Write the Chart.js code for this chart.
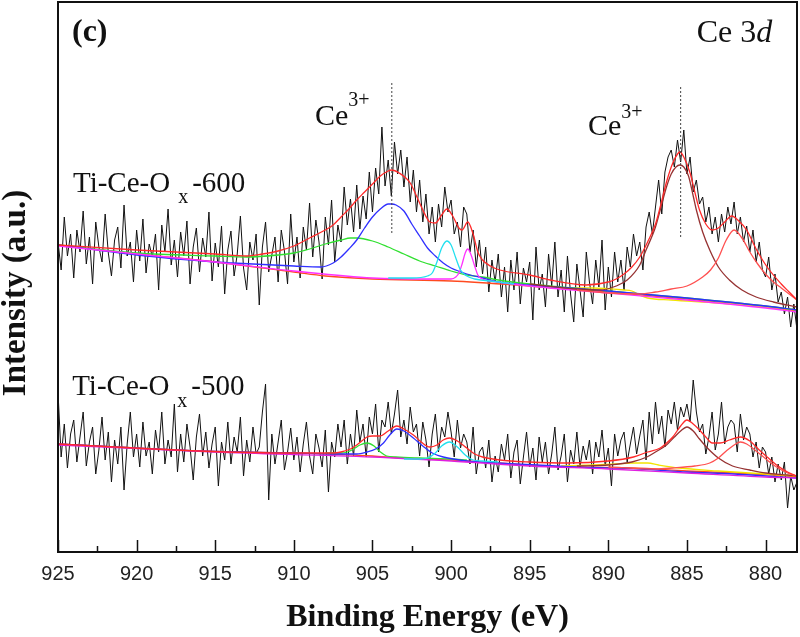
<!DOCTYPE html>
<html>
<head>
<meta charset="utf-8">
<script src="https://cdn.jsdelivr.net/npm/chart.js@4.4.1/dist/chart.umd.min.js"></script>
<style>
  html, body { margin: 0; background: #fff; }
  #wrap { width: 800px; height: 637px; }
</style>
</head>
<body>
<div id="wrap"><canvas id="c"></canvas></div>
<script>
// Ce 3d XPS spectra, binding energy axis reversed
const energyStart = 925;
const energyStep = 0.2;
const xTicks = [880, 885, 890, 895, 900, 905, 910, 915, 920, 925];
const xMinor = [877.5, 882.5, 887.5, 892.5, 897.5, 902.5, 907.5, 912.5, 917.5, 922.5];

// raw counts, Ti-Ce-Ox-600 (925 -> 878 eV, 0.2 eV step)
const raw600 = [
  310, 282, 335, 296, 318,  274, 322, 300, 341, 288,  315, 268, 330, 305, 290,
  338, 299, 276, 312, 325,  284, 347, 296, 310, 270,  322, 291, 333, 279, 308,
  295, 318, 262, 327, 300,  343, 287, 312, 275, 320,  296, 331, 268, 305, 324,
  280, 314, 295, 340, 271,  309, 285, 326, 258, 302,  321, 276, 298, 336, 284,
  262, 310, 292, 318, 247,  305, 330, 280, 297, 315,  270, 322, 301, 268, 338,
  290, 315, 274, 325, 302,  349, 295, 332, 310, 273,  335, 307, 352, 290, 327,
  310, 365, 327, 353, 320,  367, 323, 356, 333, 380,  340, 384, 358, 425, 366,
  392, 356, 410, 378, 402,  365, 395, 350, 382, 340,  372, 330, 358, 318, 345,
  310, 348, 325, 365, 340,  352, 318, 330, 305, 345,  338, 300, 322, 285, 312,
  278, 305, 260, 292, 270,  298, 255, 285, 240, 292,  262, 300, 248, 284, 270,
  290, 232, 305, 262, 278,  245, 298, 266, 310, 255,  282, 240, 296, 258, 230,
  288, 262, 235, 300, 270,  248, 292, 265, 312, 242,  285, 255, 300, 270, 292,
  262, 305, 285, 318, 296,  310, 282, 325, 340, 318,  345, 372, 338, 380, 395,
  402, 385, 412, 390, 422,  378, 395, 360, 372, 348,  355, 330, 345, 318, 335,
  310, 338, 320, 345, 328,  350, 318, 335, 310, 326,  300, 322, 290, 310, 282,
  275, 295, 262, 278, 250,  260, 238, 255, 225, 248,  222
];

// raw counts, Ti-Ce-Ox-500
const raw500 = [
  160, 95, 128, 84, 118,  132, 90, 115, 140, 86,  110, 125, 78, 102, 135,
  92, 120, 70, 112, 88,  125, 62, 108, 140, 95,  118, 85, 130, 96, 110,
  78, 122, 100, 140, 88,  112, 95, 148, 80, 118,  90, 128, 105, 72, 115,
  138, 96, 120, 84, 108,  125, 66, 110, 92, 130,  88, 115, 100, 135, 76,
  112, 90, 125, 98, 105,  140, 168, 52, 118, 88,  110, 132, 82, 100, 124,
  92, 115, 80, 108, 130,  96, 78, 118, 104, 85,  122, 60, 110, 95, 128,
  105, 132, 88, 118, 96,  142, 110, 128, 95, 135,  118, 148, 100, 132, 125,
  150, 118, 138, 162, 115,  132, 108, 145, 120, 128,  96, 130, 112, 85, 118,
  138, 100, 125, 115, 140,  120, 95, 132, 104, 118,  110, 88, 125, 78, 100,
  105, 84, 112, 70, 96,  80, 108, 92, 118, 74,  100, 112, 68, 95, 120,
  85, 104, 72, 115, 90,  110, 78, 98, 125, 82,  96, 118, 70, 102, 88,
  120, 85, 106, 92, 112,  78, 110, 95, 122, 86,  104, 66, 118, 96, 112,
  120, 90, 108, 125, 98,  116, 132, 92, 140, 108,  150, 118, 136, 105, 142,
  128, 150, 122, 145, 135,  148, 130, 172, 140, 120,  128, 98, 115, 140, 102,
  118, 150, 108, 125, 132,  128, 100, 138, 112, 125,  118, 95, 110, 84, 105,
  100, 78, 95, 70, 88,  72, 90, 44, 76, 62,  70
];

// fitted curves [eV, intensity]
const env600 = [[925,307],[920,302],[915,298],[913,296],[912,298],[911,301],[910,306],[909,314],[908,322],[907.5,327],[907,335],[906.5,343],[906,352],[905.5,360],[905,368],[904.5,376],[904,381],[903.8,382],[903.3,379],[902.6,369],[902.2,356],[901.8,342],[901.35,330],[901,329],[900.6,337],[900.27,343],[899.9,336],[899.5,324],[899.3,322],[898.94,330],[898.6,318],[898.3,300],[898,292],[897.5,286],[896.9,282],[895,277],[893.7,272],[891.4,267],[890,270],[889.5,273],[889,278],[888.5,285],[888,295],[887.5,310],[887,328],[886.7,345],[886.3,370],[885.9,389],[885.6,398],[885.45,400],[885.2,395],[884.8,379],[884.5,360],[884.2,342],[883.8,328],[883.4,322],[883,324],[882.6,330],[882.15,336],[881.7,331],[881.2,322],[880.6,303],[879.9,285],[879,268],[878.5,260],[878,252]];
const blue600 = [[925,307],[920,297],[915,290],[913.9,289],[910,286],[908.3,285],[907.5,289],[907,295],[906.5,303],[906,312],[905.5,324],[905,335],[904.5,343],[904,348],[903.8,348],[903.5,347],[903,341],[902.5,328],[902,316],[901.5,304],[901,296],[900.5,289],[900,284],[899,278],[898,274],[897,270],[895,267],[890,261],[885,254],[880,246],[878,242]];
const green600 = [[925,307],[920,299],[915,296],[913,295],[911,297],[910,299],[909,303],[908,308],[907,312],[906.4,314],[906,314],[905,311],[904,305],[903,298],[902,291],[901,286],[900,281],[899,277],[898,275],[897,272],[895,268],[890,261],[885,254],[880,246],[878,242]];
const cyan600 = [[904,274],[902.5,274],[901.5,276],[901.2,279],[900.9,290],[900.6,304],[900.27,311],[900,307],[899.7,294],[899.4,282],[899,276],[898.5,273],[897.5,271],[896,268]];
const magenta600 = [[925,306],[915,290],[910,281],[905,274],[901,273],[900,273],[899.7,275],[899.5,279],[899.3,288],[899.1,299],[898.94,303],[898.75,298],[898.5,286],[898.3,277],[898,273],[897,270],[895,266],[890,259],[885,252],[880,244],[878,240]];
const brown600 = [[895,268],[892,263],[890.5,262],[889.5,266],[888.8,272],[888,287],[887.6,302],[887,325],[886.7,342],[886.3,365],[886,378],[885.7,385],[885.45,387],[885.2,385],[884.9,376],[884.6,356],[884.4,342],[884,320],[883.55,302],[883,285],[882.3,272],[881.5,262],[880.6,255],[879.5,250],[878,245]];
const red600 = [[892,262],[890,259],[888,258],[887,260],[886,263],[885,266],[884,275],[883.5,282],[883,294],[882.5,312],[882,322],[881.5,314],[881,300],[880.5,288],[880,278],[879.5,270],[879,264],[878.5,258],[878,252]];
const yellow600 = [[895,266],[893,264],[891,264],[889,262],[888.5,261],[888,257],[887.5,254],[886,252],[883,249],[880,245],[878,242]];
const bg600 = [[925,307],[920,298],[915,290],[910,280],[908,276],[905,273],[900,271],[895,266],[890,260],[885,253],[880,245],[878,241]];

const env500 = [[925,108],[916,101],[910,99],[907.5,99],[907,100],[906.4,103],[906,107],[905.6,112],[905.35,115],[905,116],[904.5,116],[904,121],[903.45,126],[903,123],[902.4,117],[901.9,110],[901.35,105],[900.9,107],[900.5,112],[900.1,114],[899.6,111],[899,104],[898.5,98],[898,95],[896.9,92],[895,90],[892.6,89],[890,91],[888.4,95],[887.5,100],[886.7,104],[886.3,109],[885.9,115],[885.4,126],[885,132],[884.6,128],[884.2,122],[883.8,115],[883.4,109],[882.9,109],[882.3,112],[881.6,115],[881,111],[880.4,102],[879.9,95],[879.3,87],[878.6,80],[878,76]];
const blue500 = [[925,108],[916,101],[910,99],[907.5,98],[906,98],[905.35,100],[904.8,103],[904.3,109],[903.9,117],[903.45,123],[903,121],[902.4,114],[901.8,106],[901.2,99],[900.5,95],[899,91],[897,89],[892,85],[888,83],[885,80],[882,78],[878,74]];
const green500 = [[908,99],[907,99],[906.6,100],[906.2,103],[905.8,107],[905.35,109],[904.9,106],[904.5,100],[904.1,96],[903.5,95],[902,94],[900,93],[899,92]];
const cyan500 = [[903,93],[902,93],[901.5,94],[901,99],[900.6,106],[900.1,110],[899.6,105],[899.1,97],[898.6,92],[898,91],[897,90]];
const brown500 = [[892,86],[890,87],[888.5,90],[887.55,95],[887,100],[886.3,107],[885.8,115],[885.4,121],[885,125],[884.6,121],[884.2,113],[883.7,104],[883,94],[882.1,86],[881,82],[880,79],[878.6,77],[878,76]];
const red500 = [[890,85],[887,83],[885.9,84],[884.5,86],[883.55,89],[883,94],[882.5,101],[882,107],[881.6,110],[881.2,108],[880.6,101],[879.9,92],[879.2,84],[878.6,79],[878,76]];
const yellow500 = [[893,86],[891,87],[889.5,88],[888.5,89],[887.5,89],[886.8,87],[885.5,84],[883,81],[880,78],[878,76]];
const magenta500 = [[925,107],[915,100],[905,95],[900,91],[895,86],[890,83],[885,79],[880,75],[878,74]];
const bg500 = [[925,108],[920,104],[916,101],[910,99],[905,96],[903.3,94],[900,92],[897,89],[892.6,85],[888.4,84],[885,81],[882,79],[878.6,76],[878,75]];

// Ce3+ reference positions
const mark1 = [[903.77,469],[903.77,317]];
const mark2 = [[885.4,465],[885.4,314]];

const pts = arr => arr.map(p => ({x: p[0], y: p[1]}));
const rawPts = arr => arr.map((v, i) => ({x: +(energyStart - i * energyStep).toFixed(1), y: v}));

function fit(data, color) {
  return {
    data: pts(data), borderColor: color, borderWidth: 1.3,
    pointRadius: 0, cubicInterpolationMode: 'monotone', fill: false
  };
}
function dotted(data) {
  return {
    data: pts(data), borderColor: '#444', borderWidth: 1,
    borderDash: [2, 2], pointRadius: 0, fill: false
  };
}
function raw(data) {
  return {
    data: rawPts(data), borderColor: '#111', borderWidth: 1,
    pointRadius: 0, tension: 0, fill: false
  };
}

const serif = '"Liberation Serif", "Times New Roman", serif';

// text in the plot, placed at (eV, intensity)
const notes = [
  {e: 924.11, i: 511, segs: [{t: '(c)', f: 'bold 32px ' + serif}]},
  {e: 884.38, i: 510, segs: [{t: 'Ce 3', f: '32px ' + serif}, {t: 'd', f: 'italic 32px ' + serif}]},
  {e: 908.66, i: 427, segs: [{t: 'Ce', f: '30px ' + serif}, {t: '3+', f: '20px ' + serif, dy: -19}]},
  {e: 891.3, i: 417, segs: [{t: 'Ce', f: '30px ' + serif}, {t: '3+', f: '20px ' + serif, dy: -17}]},
  {e: 924.05, i: 360, segs: [{t: 'Ti-Ce-O', f: '29px ' + serif, gap: 8}, {t: 'x', f: '20px ' + serif, dy: 11, gap: 4}, {t: '-600', f: '29px ' + serif}]},
  {e: 924.1, i: 157, segs: [{t: 'Ti-Ce-O', f: '29px ' + serif, gap: 8}, {t: 'x', f: '20px ' + serif, dy: 12, gap: 4}, {t: '-500', f: '29px ' + serif}]}
];

const decor = {
  id: 'decor',
  afterDatasetsDraw(chart) {
    const {ctx, chartArea: a, scales: {x, y}} = chart;
    ctx.save();
    ctx.strokeStyle = '#111';
    ctx.lineWidth = 2;
    ctx.strokeRect(a.left, a.top, a.right - a.left, a.bottom - a.top);
    ctx.lineWidth = 1.5;
    ctx.beginPath();
    xTicks.forEach(v => {
      const px = Math.round(x.getPixelForValue(v)) + 0.5;
      ctx.moveTo(px, a.bottom); ctx.lineTo(px, a.bottom - 12);
    });
    xMinor.forEach(v => {
      const px = Math.round(x.getPixelForValue(v)) + 0.5;
      if (px < a.left || px > a.right) return;
      ctx.moveTo(px, a.bottom); ctx.lineTo(px, a.bottom - 6);
    });
    ctx.stroke();

    ctx.fillStyle = '#111';
    ctx.textBaseline = 'alphabetic';
    ctx.textAlign = 'left';
    notes.forEach(n => {
      let px = x.getPixelForValue(n.e);
      const py = y.getPixelForValue(n.i);
      n.segs.forEach(s => {
        ctx.font = s.f;
        ctx.fillText(s.t, px, py + (s.dy || 0));
        px += ctx.measureText(s.t).width + (s.gap || 0);
      });
    });

    // axis titles
    ctx.font = 'bold 32px ' + serif;
    ctx.textAlign = 'center';
    ctx.fillText('Binding Energy (eV)', (a.left + a.right) / 2, 626);
    ctx.translate(16, 293);
    ctx.rotate(-Math.PI / 2);
    ctx.font = 'bold 33px ' + serif;
    ctx.textBaseline = 'middle';
    ctx.fillText('Intensity (a.u.)', 0, 0);
    ctx.restore();
  }
};

new Chart(document.getElementById('c').getContext('2d'), {
  type: 'line',
  data: {
    datasets: [
      dotted(mark1), dotted(mark2),
      fit(env600, '#ff2a2a'), fit(env500, '#ff2a2a'),
      fit(red600, '#ff5050'), fit(red500, '#ff5050'),
      fit(brown600, '#963232'), fit(brown500, '#963232'),
      fit(cyan600, '#22e0ee'), fit(cyan500, '#22e0ee'),
      fit(magenta600, '#ff30ff'), fit(magenta500, '#e020e0'),
      fit(blue600, '#3030ff'), fit(blue500, '#3030ff'),
      fit(green600, '#30e030'), fit(green500, '#30e030'),
      fit(yellow600, '#f2e400'), fit(yellow500, '#f2e400'),
      fit(bg600, '#ff4a20'), fit(bg500, '#ff4a20'),
      raw(raw600), raw(raw500)
    ]
  },
  options: {
    responsive: true,
    maintainAspectRatio: false,
    animation: false,
    devicePixelRatio: 1,
    layout: { padding: { top: 2, right: 3, left: 0, bottom: 0 } },
    plugins: { legend: { display: false }, tooltip: { enabled: false } },
    scales: {
      x: {
        type: 'linear', reverse: true, min: 878, max: 925,
        afterBuildTicks: s => { s.ticks = xTicks.map(v => ({value: v})); },
        afterFit: s => { s.height = 85; },
        grid: { display: false, drawTicks: false },
        border: { display: false },
        ticks: {
          autoSkip: false, maxRotation: 0, padding: 10, color: '#222',
          font: { family: '"Liberation Sans", Arial, sans-serif', size: 20 }
        }
      },
      y: {
        type: 'linear', min: 0, max: 550,
        afterFit: s => { s.width = 58; },
        grid: { display: false, drawTicks: false },
        border: { display: false },
        ticks: { display: false }
      }
    }
  },
  plugins: [decor]
});
</script>
</body>
</html>
